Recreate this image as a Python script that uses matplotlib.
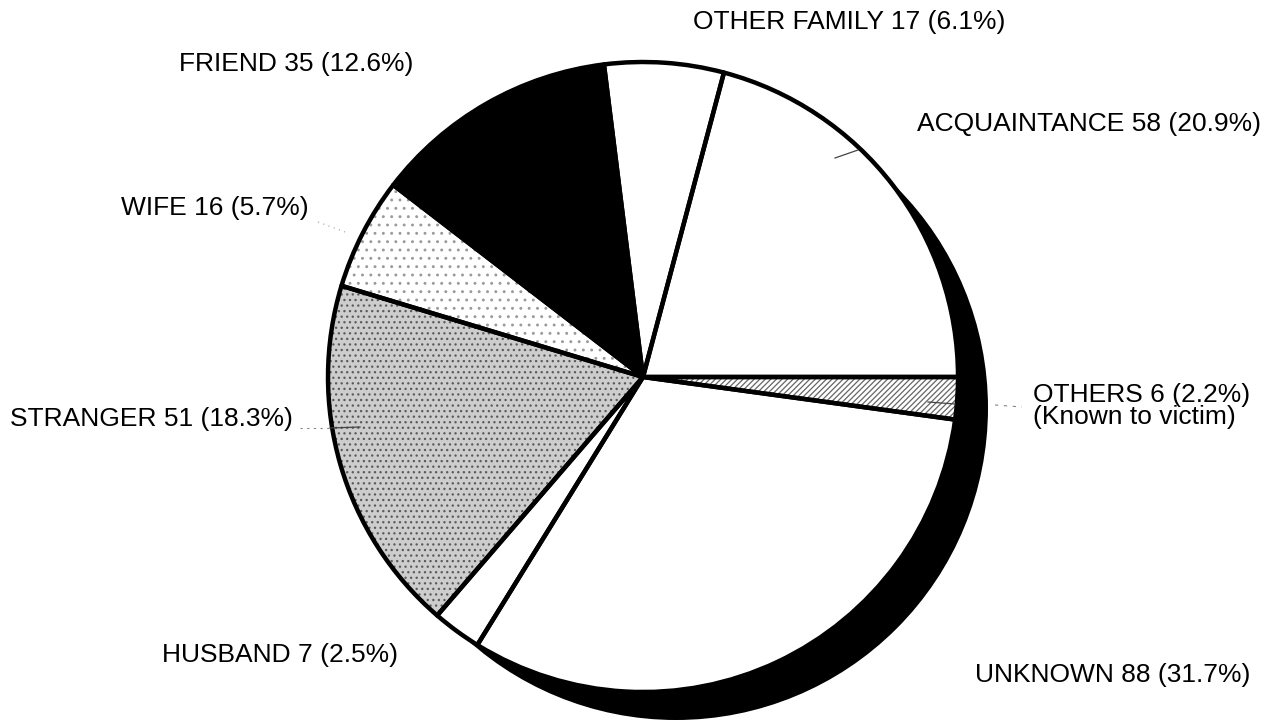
import matplotlib
matplotlib.use("Agg")
import matplotlib.pyplot as plt
from matplotlib.patches import Circle

# --- data ---
categories = ["ACQUAINTANCE", "OTHER FAMILY", "FRIEND", "WIFE",
              "STRANGER", "HUSBAND", "UNKNOWN", "OTHERS"]
counts = [58, 17, 35, 16, 51, 7, 88, 6]
pct_labels = ["20.9%", "6.1%", "12.6%", "5.7%", "18.3%", "2.5%", "31.7%", "2.2%"]

# fills per wedge (face, hatch colour, hatch)
faces = ["white", "white", "black", "white", "#cdcdcd", "white", "white", "white"]
hatch_cols = ["white", "white", "black", "#9a9a9a", "#5a5a5a", "white", "white", "#666666"]
hatches = [None, None, None, "..", "...", None, None, "//////"]

# label placement (left x, centre y) in pixel units, y from top
label_pos = {
    "ACQUAINTANCE": (917, 124),
    "OTHER FAMILY": (693, 22),
    "FRIEND": (179, 64),
    "WIFE": (121, 208),
    "STRANGER": (10, 419),
    "HUSBAND": (162, 655),
    "UNKNOWN": (975, 675),
    "OTHERS": (1033, 394),
}

W, H = 1278, 722
plt.rcParams["font.family"] = ["Liberation Sans", "DejaVu Sans"]
plt.rcParams["hatch.linewidth"] = 0.9

fig = plt.figure(figsize=(W / 100, H / 100), dpi=100)
ax = fig.add_axes([0, 0, 1, 1])

cx, cy, r = 643, H - 377, 315

# drop shadow
ax.add_patch(Circle((cx + 33, cy - 31), 312, facecolor="black", edgecolor="none", zorder=1))

# fills
wedges, _ = ax.pie(counts, center=(cx, cy), radius=r, startangle=0, counterclock=True,
                   frame=True, wedgeprops=dict(linewidth=0))
for w, fc, hc, hp in zip(wedges, faces, hatch_cols, hatches):
    w.set_facecolor(fc)
    w.set_edgecolor(hc)
    w.set_linewidth(0)
    if hp:
        w.set_hatch(hp)
    w.set_zorder(2)

# outlines
outl, _ = ax.pie(counts, center=(cx, cy), radius=r, startangle=0, counterclock=True,
                 frame=True, wedgeprops=dict(facecolor="none", edgecolor="black",
                                             linewidth=3.2, joinstyle="round"))
for w in outl:
    w.set_zorder(3)

ax.set_xlim(0, W)
ax.set_ylim(0, H)
ax.set_aspect("equal")
ax.axis("off")

# labels
for cat, n, p in zip(categories, counts, pct_labels):
    x, y = label_pos[cat]
    txt = f"{cat} {n} ({p})"
    if cat == "OTHERS":
        txt += "\n(Known to victim)"
        ax.text(x, H - y - 12, txt, fontsize=19, ha="left", va="center",
                linespacing=0.85, zorder=5)
    else:
        ax.text(x, H - y, txt, fontsize=19, ha="left", va="center", zorder=5)

# small leader ticks
lk = dict(color="#444444", linewidth=0.9, zorder=4)
ax.plot([835, 858], [H - 158, H - 150], **lk)
ax.plot([330, 360], [H - 428, H - 427], **lk)
ax.plot([300, 330], [H - 428, H - 428], color="#888888", linewidth=0.8, linestyle=(0, (2, 4)), zorder=4)
ax.plot([928, 955], [H - 402, H - 404], **lk)
ax.plot([995, 1022], [H - 405, H - 407], color="#888888", linewidth=0.8, linestyle=(0, (3, 5)), zorder=4)
ax.plot([318, 345], [H - 222, H - 232], color="#999999", linewidth=0.8, linestyle=(0, (1, 4)), zorder=4)

fig.savefig("out.png", dpi=100, facecolor="white")
